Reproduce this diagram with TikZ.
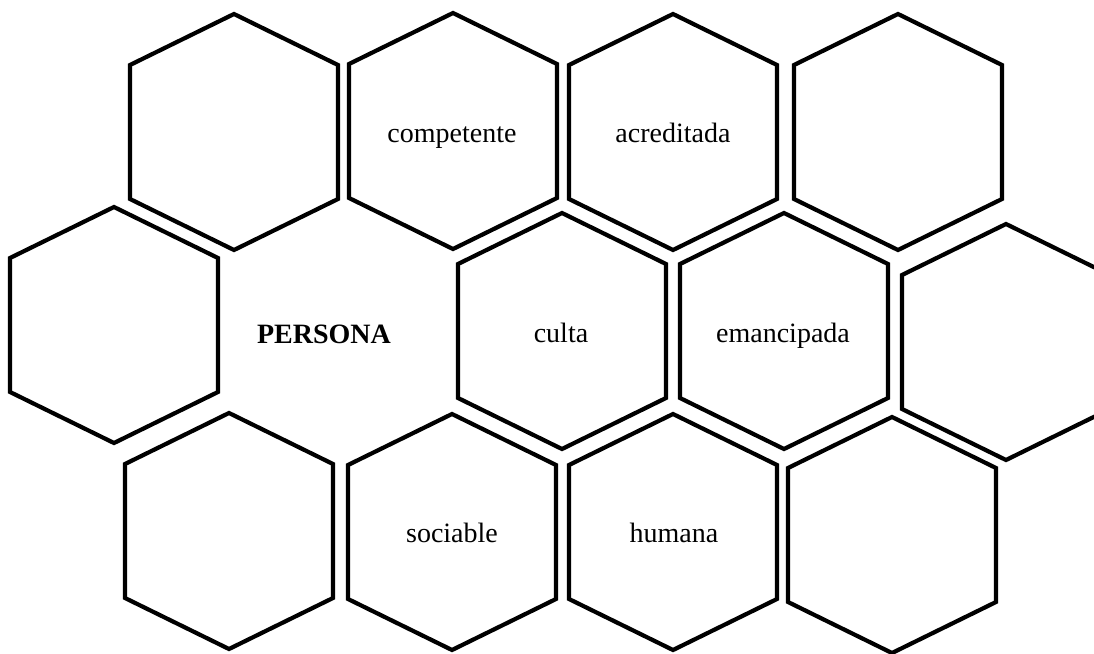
\documentclass[tikz,border=0pt]{standalone}
\usepackage{fontspec}
\setmainfont{Liberation Serif}
\begin{document}
\begin{tikzpicture}[x=1pt,y=-1pt,
  hexline/.style={line width=4.2pt, line join=miter},
  lbl/.style={font=\fontsize{28}{34}\selectfont, inner sep=0pt, anchor=base},
  hexa/.pic={\draw[hexline] (-104,-67) -- (0,-118) -- (104,-67) -- (104,67) -- (0,118) -- (-104,67) -- cycle;}]
\useasboundingbox (0,0) rectangle (1094,653);
% row 1
\pic at (234,132) {hexa};
\pic at (453,131) {hexa};
\pic at (673,132) {hexa};
\pic at (898,132) {hexa};
% row 2
\pic at (114,325) {hexa};
\pic at (562,331) {hexa};
\pic at (784,331) {hexa};
\pic at (1006,342) {hexa};
% row 3
\pic at (229,531) {hexa};
\pic at (452,532) {hexa};
\pic at (673,532) {hexa};
\pic at (892,535) {hexa};
% labels
\node[lbl] (competente) at (452,142) {competente};
\node[lbl] (acreditada) at (673,142) {acreditada};
\node[lbl,font=\fontsize{28}{34}\selectfont\bfseries] (persona) at (324,343) {PERSONA};
\node[lbl] (culta) at (561,342) {culta};
\node[lbl] (emancipada) at (783,342) {emancipada};
\node[lbl] (sociable) at (452,542) {sociable};
\node[lbl] (humana) at (674,542) {humana};
\end{tikzpicture}
\end{document}
